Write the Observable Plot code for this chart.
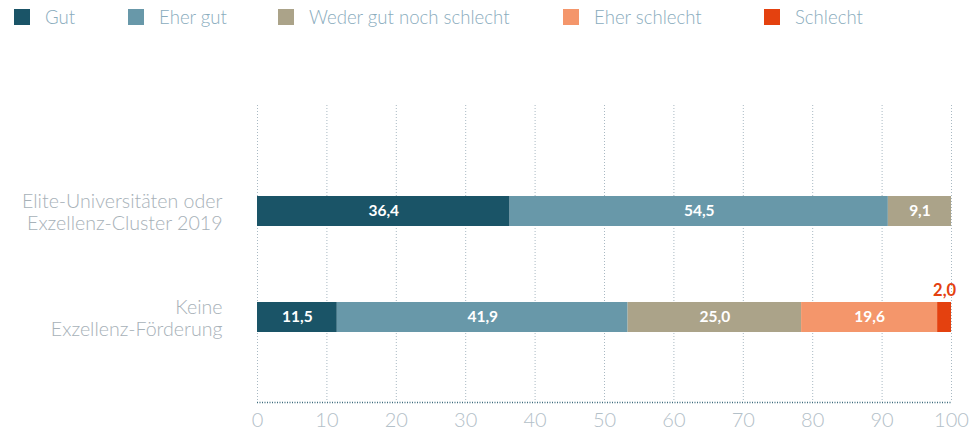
<!DOCTYPE html>
<html>
<head>
<meta charset="utf-8">
<script src="https://cdn.jsdelivr.net/npm/d3@7"></script>
<script src="https://cdn.jsdelivr.net/npm/@observablehq/plot@0.6"></script>
<style>
  html, body { margin: 0; padding: 0; background: #fff; }
  body { width: 969px; height: 434px; overflow: hidden; font-family: Lato, "Open Sans", sans-serif; }
  #legend { position: relative; height: 40px; width: 969px; }
  .item { position: absolute; top: 0; height: 34px; display: flex; align-items: center; font-size: 18.6px; font-weight: 300; color: #8aacbd; white-space: nowrap; }
  .sw { width: 16px; height: 16px; margin-right: 15px; display: inline-block; }
</style>
</head>
<body>
<div id="legend"></div>
<div id="chart"></div>
<script>
// ---- data ----
const categories = ["Elite-Universitäten oder\nExzellenz-Cluster 2019", "Keine\nExzellenz-Förderung"];
const responses = ["Gut", "Eher gut", "Weder gut noch schlecht", "Eher schlecht", "Schlecht"];
const colors = ["#1a5467", "#6898a9", "#aba389", "#f4966b", "#e4410f"];
const eliteValues = [36.4, 54.5, 9.1, 0, 0];
const keineValues = [11.5, 41.9, 25.0, 19.6, 2.0];
const xTicks = [0, 10, 20, 30, 40, 50, 60, 70, 80, 90, 100];

// ---- legend ----
const legendLeft = [14, 128, 278, 563, 764];
const legend = document.getElementById("legend");
responses.forEach((r, i) => {
  const el = document.createElement("div");
  el.className = "item";
  el.style.left = legendLeft[i] + "px";
  el.innerHTML = `<span class="sw" style="background:${colors[i]}"></span><span>${r}</span>`;
  legend.appendChild(el);
});

// ---- table ----
const rows = [];
[eliteValues, keineValues].forEach((vals, ci) => {
  vals.forEach((v, ri) => rows.push({cat: categories[ci], resp: responses[ri], value: v}));
});
const fmt = v => v.toFixed(1).replace(".", ",");
const inside = d => d.value >= 5;
const small = d => d.value > 0 && d.value < 5;

const chart = Plot.plot({
  width: 969,
  height: 394,
  marginLeft: 257,
  marginRight: 18,
  marginTop: 65,
  marginBottom: 32,
  style: {fontFamily: "Lato, 'Open Sans', sans-serif", background: "#fff"},
  x: {domain: [0, 100], axis: null},
  y: {domain: categories, range: [118, 330], paddingInner: 0.717, paddingOuter: 0.3585, axis: null},
  color: {domain: responses, range: colors},
  marks: [
    Plot.ruleX(xTicks, {stroke: "#a9b9c3", strokeWidth: 1, strokeDasharray: "1,2"}),
    Plot.barX(rows, Plot.stackX({x: "value", y: "cat", fill: "resp", order: responses})),
    Plot.text(rows, Plot.stackX({x: "value", y: "cat", z: "resp", order: responses,
      text: d => inside(d) ? fmt(d.value) : "", fill: "white", fontWeight: "bold", fontSize: 15.5})),
    Plot.text(rows, Plot.stackX({x: "value", y: "cat", z: "resp", order: responses,
      text: d => small(d) ? fmt(d.value) : "", fill: "#e4410f", fontWeight: "bold", fontSize: 16.5, dy: -27})),
    Plot.ruleY([categories[1]], {x1: 0, x2: 100, dy: 85, stroke: "#3d6b7c", strokeWidth: 1.5, strokeDasharray: "1,1.5"}),
    Plot.text(categories, {y: d => d, text: d => d, frameAnchor: "left", dx: -35, textAnchor: "end",
      fill: "#a7b1b8", fontSize: 19.6, fontWeight: 300, lineHeight: 1.13}),
    Plot.axisX(xTicks, {tickSize: 0, tickPadding: 0, dy: 10, anchor: "bottom", fontSize: 20, fontWeight: 300,
      color: "#b3c0c8", label: null, tickFormat: d => String(d)})
  ]
});
document.getElementById("chart").appendChild(chart);
</script>
</body>
</html>
